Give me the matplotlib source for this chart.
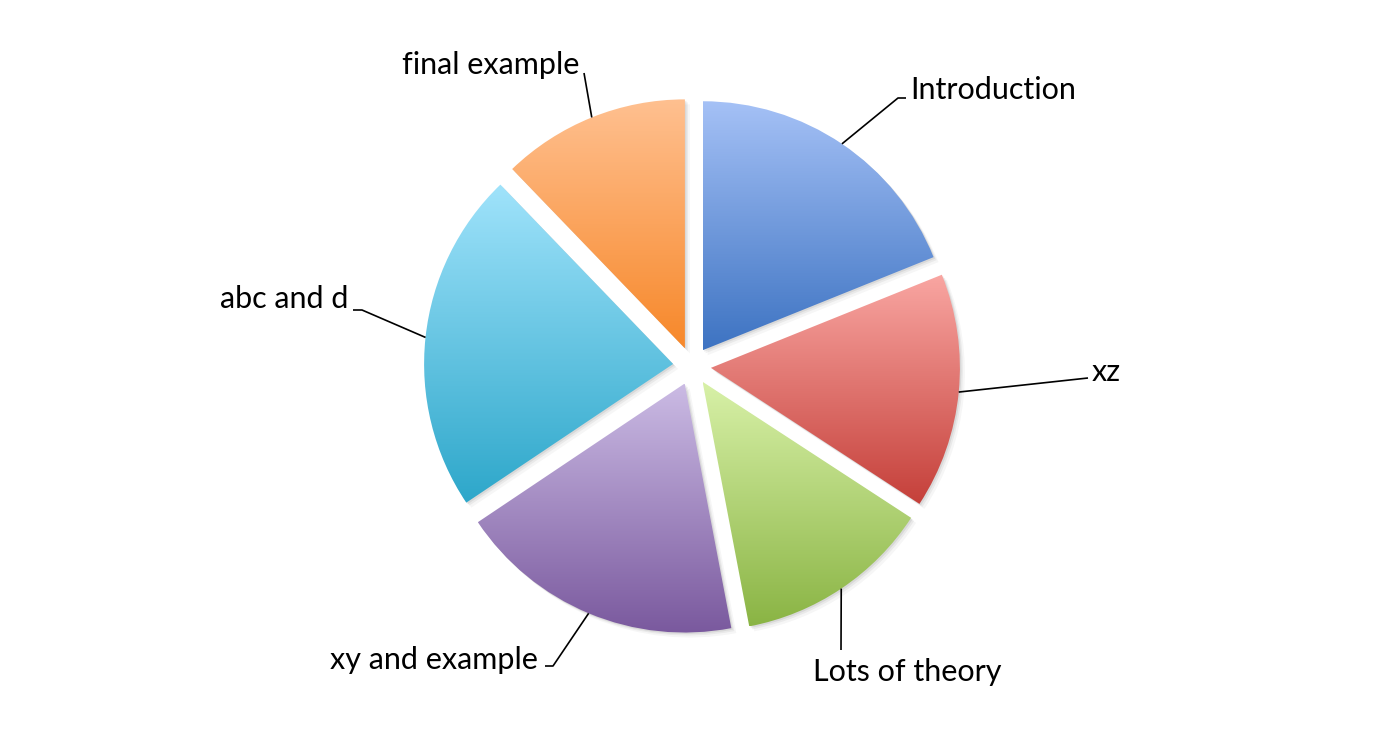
import numpy as np
import matplotlib
matplotlib.use("Agg")
import matplotlib.pyplot as plt
from matplotlib.colors import LinearSegmentedColormap
from matplotlib.patches import Wedge

# ---- data ----
labels = ["Introduction", "xz", "Lots of theory", "xy and example", "abc and d", "final example"]
values = [18.9, 15.3, 12.8, 18.6, 22.2, 12.2]
top_colors = ["#A5C1F6", "#F9A6A2", "#D8F1A8", "#CBBBE4", "#A0E3FB", "#FFC090"]
bottom_colors = ["#3D73C2", "#C5403A", "#8AB444", "#7A599E", "#2DA7CA", "#F7882A"]

W, H = 1383, 731
fig = plt.figure(figsize=(W / 100, H / 100), dpi=100)
ax = fig.add_axes([0, 0, 1, 1])

center = (692, H - 366)
radius = 249
explode = [19] * len(values)  # matplotlib offsets in data units (px here)

wedges, _ = ax.pie(values, startangle=90, counterclock=False, explode=explode,
                   radius=radius, center=center, frame=True,
                   wedgeprops=dict(linewidth=0))

grad = np.linspace(0, 1, 256).reshape(-1, 1)
for w, c1, c2 in zip(wedges, top_colors, bottom_colors):
    # soft shadow
    for k, a in [(5, 0.035), (3, 0.05), (1.5, 0.07)]:
        sh = Wedge((w.center[0] + k, w.center[1] - k), w.r, w.theta1, w.theta2,
                   facecolor="black", alpha=a, linewidth=0, zorder=0.5)
        ax.add_patch(sh)
    w.set_facecolor("none")
    w.set_zorder(1)
    bb = w.get_path().get_extents(w.get_patch_transform())
    cmap = LinearSegmentedColormap.from_list("g", [c2, c1])
    im = ax.imshow(grad, cmap=cmap, origin="lower", aspect="auto",
                   extent=[bb.x0, bb.x1, bb.y0, bb.y1], zorder=1, interpolation="bilinear")
    im.set_clip_path(w)

# ---- labels with leader lines (layout positions in pixels from top) ----
label_layout = {
    "Introduction": dict(elbow=[(898, 98), (906, 98)], text=(910, 90), ha="left"),
    "xz": dict(elbow=[(1088, 378)], text=(1092, 372), ha="left"),
    "Lots of theory": dict(elbow=[(841, 650)], text=(907, 672), ha="center"),
    "xy and example": dict(elbow=[(553, 666), (545, 666)], text=(538, 660), ha="right"),
    "abc and d": dict(elbow=[(362, 310), (353, 310)], text=(348, 299), ha="right"),
    "final example": dict(elbow=[(584, 73)], text=(579, 65), ha="right"),
}

for w, lab in zip(wedges, labels):
    mid = np.deg2rad((w.theta1 + w.theta2) / 2)
    ax0 = w.center[0] + w.r * np.cos(mid)
    ay0 = w.center[1] + w.r * np.sin(mid)
    lay = label_layout[lab]
    xs = [ax0] + [p[0] for p in lay["elbow"]]
    ys = [ay0] + [H - p[1] for p in lay["elbow"]]
    ax.plot(xs, ys, color="black", lw=1.2, zorder=3, solid_capstyle="butt")
    tx, ty = lay["text"]
    ax.text(tx, H - ty, lab, ha=lay["ha"], va="center", fontsize=22,
            family=["Lato", "DejaVu Sans"], color="black", zorder=4)

ax.set_xlim(0, W)
ax.set_ylim(0, H)
ax.set_aspect("equal")
ax.axis("off")

fig.savefig("out.png", dpi=100)
